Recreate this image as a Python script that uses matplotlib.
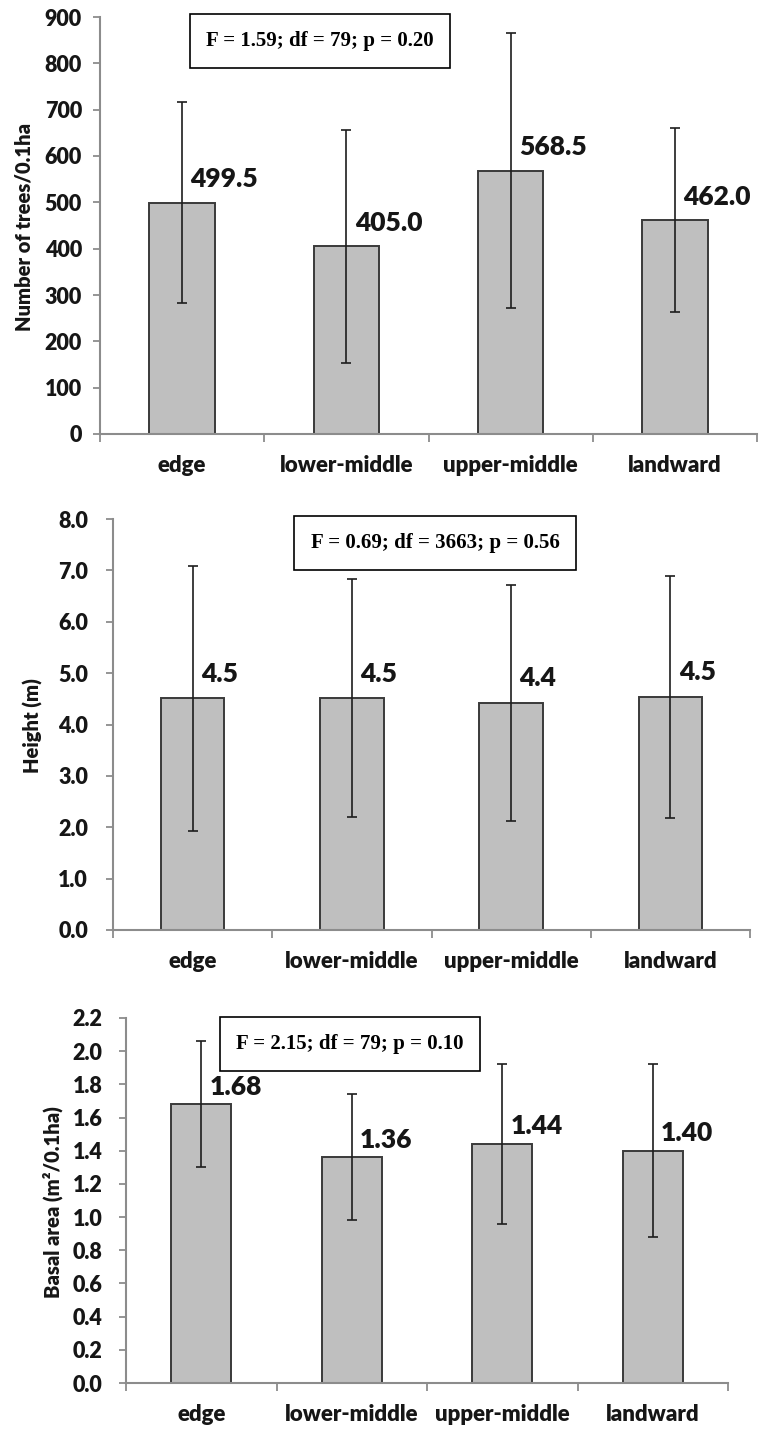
import matplotlib
matplotlib.use('Agg')
import matplotlib.pyplot as plt
import numpy as np

# data
sites = ['edge', 'lower-middle', 'upper-middle', 'landward']

trees_mean = [499.5, 405.0, 568.5, 462.0]
trees_err = [216, 251, 297, 198]

height_mean = [4.51, 4.51, 4.42, 4.54]
height_err = [2.58, 2.32, 2.29, 2.36]

basal_mean = [1.68, 1.36, 1.44, 1.40]
basal_err = [0.38, 0.38, 0.48, 0.52]

stats_text = ['F = 1.59; df = 79; p = 0.20',
              'F = 0.69; df = 3663; p = 0.56',
              'F = 2.15; df = 79; p = 0.10']

W, H = 765, 1429
SANS = ['Lato', 'DejaVu Sans']
SERIF = ['Liberation Serif', 'DejaVu Serif']
AXIS_GREY = '#8c8c8c'
TXT = '#161616'
WGT = 800  # Lato Heavy, close to the blurry Calibri bold

fig = plt.figure(figsize=(W / 100, H / 100), dpi=100)


def px_axes(left, top, right, bottom):
    # pixel box -> figure fraction
    return fig.add_axes([left / W, 1 - bottom / H, (right - left) / W, (bottom - top) / H])


def panel(box, means, errs, yticks, yfmt, lblfmt, ylabel, ylabel_xy,
          stat, stat_xy, lbl_off, ypad):
    ax = px_axes(*box)
    x = np.arange(len(sites))
    ax.bar(x, means, width=0.4, color='#bfbfbf', edgecolor='#3a3a3a',
           linewidth=1.4, zorder=2)
    ax.errorbar(x, means, yerr=errs, fmt='none', ecolor='#1e1e1e',
                elinewidth=1.2, capsize=3.8, capthick=1.2, zorder=3)
    for xi, m in zip(x, means):
        ax.annotate(lblfmt.format(m), (xi, m), xytext=(6, lbl_off),
                    textcoords='offset points', ha='left', va='baseline',
                    fontsize=19, fontweight=WGT, family=SANS, color=TXT)

    ax.set_xlim(-0.5, len(sites) - 0.5)
    ax.set_ylim(yticks[0], yticks[-1])
    ax.set_yticks(yticks)
    ax.set_yticklabels([yfmt.format(v) for v in yticks], fontsize=15.5,
                       fontweight=WGT, family=SANS, color=TXT)
    ax.set_xticks(x)
    ax.set_xticklabels(sites, fontsize=16, fontweight=WGT, family=SANS,
                       color=TXT)
    ax.set_xticks(np.arange(len(sites) + 1) - 0.5, minor=True)
    ax.tick_params(axis='x', which='major', length=0, pad=15)
    ax.tick_params(axis='x', which='minor', length=6, width=1.3, color=AXIS_GREY)
    ax.tick_params(axis='y', length=5, width=1.3, color=AXIS_GREY, pad=ypad)

    for s in ['top', 'right']:
        ax.spines[s].set_visible(False)
    for s in ['left', 'bottom']:
        ax.spines[s].set_color(AXIS_GREY)
        ax.spines[s].set_linewidth(1.5)

    fig.text(ylabel_xy[0] / W, 1 - ylabel_xy[1] / H, ylabel, rotation=90,
             ha='center', va='center', fontsize=14.5, fontweight=WGT,
             family=SANS, color=TXT)
    fig.text(stat_xy[0] / W, 1 - stat_xy[1] / H, stat, ha='center', va='center',
             fontsize=15, fontweight='bold', family=SERIF, color='black',
             bbox=dict(boxstyle='square,pad=0.8', facecolor='white',
                       edgecolor='black', linewidth=1.2))
    return ax


panel((100, 17, 757, 434), trees_mean, trees_err,
      np.arange(0, 901, 100), '{:.0f}', '{:.1f}',
      'Number of trees/0.1ha', (24, 227),
      stats_text[0], (320, 41), 11, 8)

panel((113, 519, 750, 930), height_mean, height_err,
      np.arange(0, 8.01, 1.0), '{:.1f}', '{:.1f}',
      'Height (m)', (33, 726),
      stats_text[1], (435, 543), 12, 13)

panel((126, 1018, 728, 1383), basal_mean, basal_err,
      np.round(np.arange(0, 2.21, 0.2), 1), '{:.1f}', '{:.2f}',
      'Basal area (m²/0.1ha)', (53, 1202),
      stats_text[2], (350, 1044), 7, 12)

fig.savefig('out.png', dpi=100)
